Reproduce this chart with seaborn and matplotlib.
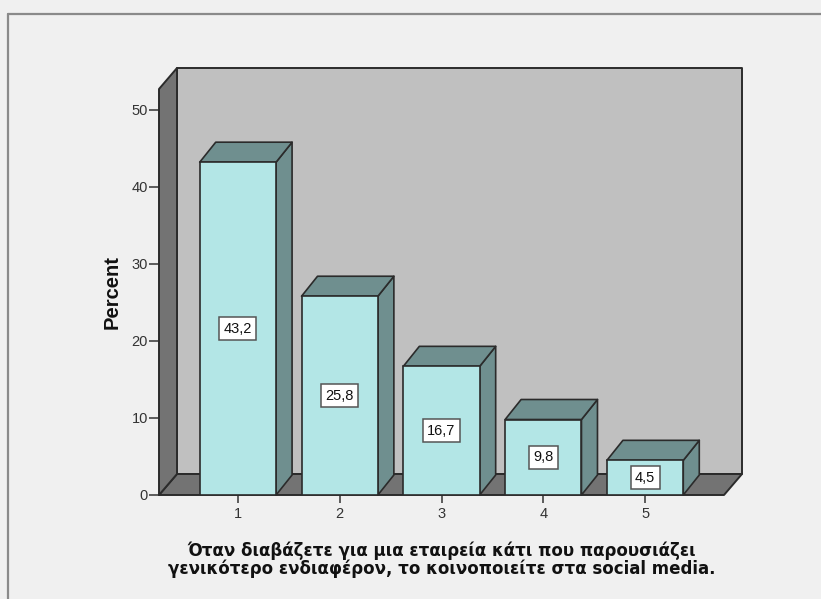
import matplotlib
matplotlib.use("Agg")
import matplotlib.pyplot as plt
import seaborn as sns
import pandas as pd
from matplotlib.patches import Polygon
from matplotlib.lines import Line2D

# Response categories and percentages
categories = ["1", "2", "3", "4", "5"]
percent = [43.2, 25.8, 16.7, 9.8, 4.5]
value_labels = ["43,2", "25,8", "16,7", "9,8", "4,5"]
y_ticks = [0, 10, 20, 30, 40, 50]
x_title = ("Όταν διαβάζετε για μια εταιρεία κάτι που παρουσιάζει\n"
           "γενικότερο ενδιαφέρον, το κοινοποιείτε στα social media.")
y_title = "Percent"

FRONT = "#b3e6e6"
SHADE = "#6f8f8f"
WALL_DARK = "#737373"
WALL_BACK = "#c0c0c0"
BG = "#f0f0f0"
EDGE = "#2b2b2b"

sns.set_theme(style="white")
plt.rcParams["font.family"] = ["Liberation Sans", "DejaVu Sans"]

W, H = 821, 599
fig = plt.figure(figsize=(W / 100, H / 100), dpi=100, facecolor=BG)
ax = fig.add_axes([159 / W, (H - 495) / H, 565 / W, 406 / H])

df = pd.DataFrame({"cat": categories, "pct": percent})
sns.barplot(data=df, x="cat", y="pct", color=FRONT, saturation=1,
            width=0.75, edgecolor=EDGE, linewidth=1.2, ax=ax, zorder=3)
for p in ax.patches:
    p.set_facecolor(FRONT)
    p.set_zorder(3)

ax.set_xlim(-0.775, 4.775)
ax.set_ylim(0, 52.7)
ax.patch.set_visible(False)
for s in ax.spines.values():
    s.set_visible(False)


def shifted(x, y, dx, dy):
    """Move a data point by (dx, dy) screen pixels, return data coords."""
    X, Y = ax.transData.transform((x, y))
    return tuple(ax.transData.inverted().transform((X + dx, Y + dy)))


x0, x1 = ax.get_xlim()
y0, y1 = ax.get_ylim()
WDX, WDY = 18, 21   # depth of the chart box
BDX, BDY = 16, 20   # depth of each bar

# back wall, floor and left wall of the box
back = [shifted(x0, y0, WDX, WDY), shifted(x1, y0, WDX, WDY),
        shifted(x1, y1, WDX, WDY), shifted(x0, y1, WDX, WDY)]
floor = [(x0, y0), (x1, y0), shifted(x1, y0, WDX, WDY), shifted(x0, y0, WDX, WDY)]
left = [(x0, y0), (x0, y1), shifted(x0, y1, WDX, WDY), shifted(x0, y0, WDX, WDY)]
for pts, fc, z in [(back, WALL_BACK, 0.5), (floor, WALL_DARK, 0.6), (left, WALL_DARK, 0.7)]:
    ax.add_patch(Polygon(pts, closed=True, fc=fc, ec=EDGE, lw=1.4,
                         zorder=z, clip_on=False, joinstyle="round"))

# 3D side and top faces of each bar, plus the value box
for p, lab in zip(list(ax.patches)[:len(percent)], value_labels):
    bx, bw, bh = p.get_x(), p.get_width(), p.get_height()
    side = [(bx + bw, 0), (bx + bw, bh), shifted(bx + bw, bh, BDX, BDY),
            shifted(bx + bw, 0, BDX, BDY)]
    top = [(bx, bh), (bx + bw, bh), shifted(bx + bw, bh, BDX, BDY),
           shifted(bx, bh, BDX, BDY)]
    for pts in (side, top):
        ax.add_patch(Polygon(pts, closed=True, fc=SHADE, ec=EDGE, lw=1.2,
                             zorder=2.9, clip_on=False, joinstyle="round"))
    ax.text(bx + bw / 2, bh / 2, lab, ha="center", va="center",
            fontsize=10.5, color="#111111", zorder=5,
            bbox=dict(boxstyle="square,pad=0.3", fc="white", ec="#555555", lw=1.1))

ax.set_yticks(y_ticks)
ax.tick_params(axis="y", left=True, length=7, width=1.1, color="#333333",
               labelsize=10.5, labelcolor="#333333", pad=1)
ax.tick_params(axis="x", bottom=True, length=5.5, width=1.1, color="#333333",
               labelsize=10.5, labelcolor="#333333", pad=3)

ax.set_xlabel(x_title, fontsize=12, fontweight="bold", color="#111111",
              linespacing=1.0, family=["DejaVu Sans"])
ax.xaxis.set_label_coords(0.5, -0.114)
ax.xaxis.label.set_va("top")
ax.set_ylabel(y_title, fontsize=14.5, fontweight="bold", color="#111111")
ax.yaxis.set_label_coords(-0.067, 0.5)

# outer frame of the chart area
fig.add_artist(Line2D([8 / W, 1], [1 - 14 / H, 1 - 14 / H], color="#8a8a8a",
                      lw=1.6, transform=fig.transFigure))
fig.add_artist(Line2D([8 / W, 8 / W], [0, 1 - 14 / H], color="#8a8a8a",
                      lw=1.6, transform=fig.transFigure))

fig.savefig("out.png", dpi=100, facecolor=BG)
